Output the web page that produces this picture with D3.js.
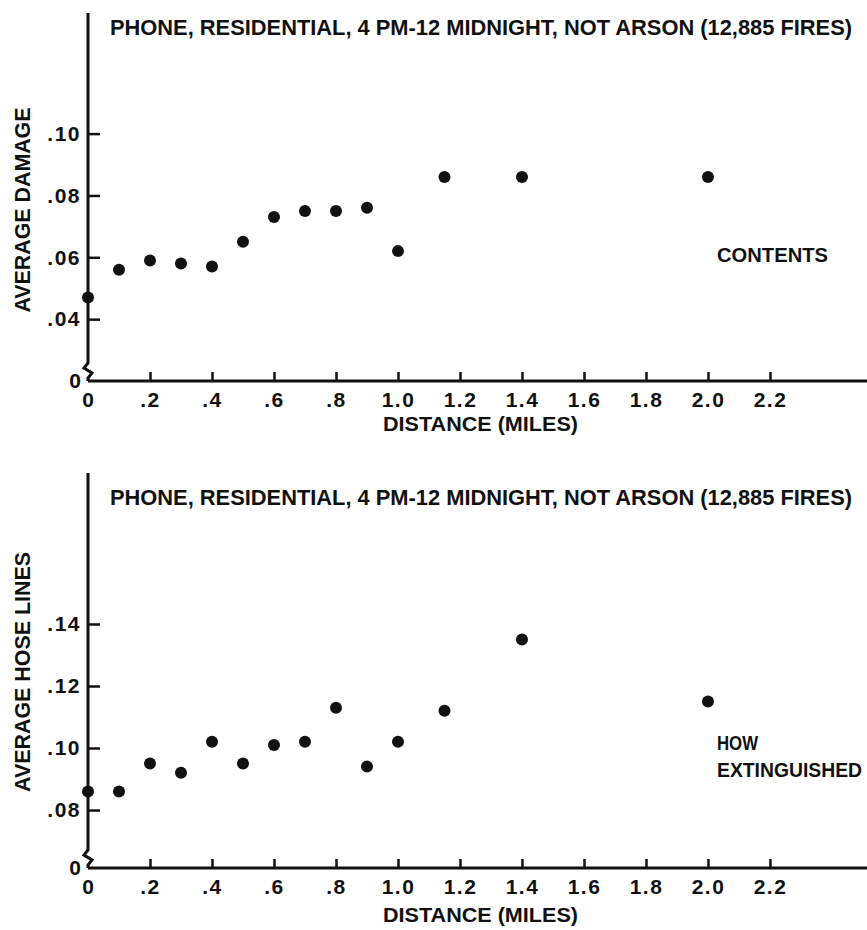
<!DOCTYPE html>
<html>
<head>
<meta charset="utf-8">
<script src="https://cdn.jsdelivr.net/npm/d3@7"></script>
<style>
  body { margin: 0; background: #fff; }
  text { font-family: 'Liberation Sans', Arial, sans-serif; font-weight: bold; fill: #111; }
</style>
</head>
<body>
<div id="chart"></div>
<script>
const title = 'PHONE, RESIDENTIAL, 4 PM-12 MIDNIGHT, NOT ARSON (12,885 FIRES)';
const distances = [0, 0.1, 0.2, 0.3, 0.4, 0.5, 0.6, 0.7, 0.8, 0.9, 1.0, 1.15, 1.4, 2.0];
const damage = [0.047, 0.056, 0.059, 0.058, 0.057, 0.065, 0.073, 0.075, 0.075, 0.076, 0.062, 0.086, 0.086, 0.086];
const hoseLines = [0.086, 0.086, 0.095, 0.092, 0.102, 0.095, 0.101, 0.102, 0.113, 0.094, 0.102, 0.112, 0.135, 0.115];
const xTicks = [0, 0.2, 0.4, 0.6, 0.8, 1.0, 1.2, 1.4, 1.6, 1.8, 2.0, 2.2];
const xTickLabels = ['0', '.2', '.4', '.6', '.8', '1.0', '1.2', '1.4', '1.6', '1.8', '2.0', '2.2'];
const damageTicks = [0.04, 0.06, 0.08, 0.10];
const damageTickLabels = ['.04', '.06', '.08', '.10'];
const hoseTicks = [0.08, 0.10, 0.12, 0.14];
const hoseTickLabels = ['.08', '.10', '.12', '.14'];

const width = 867, height = 930;
const svg = d3.select('#chart').append('svg')
  .attr('width', width)
  .attr('height', height);

function drawPanel(cfg) {
  const g = svg.append('g');
  const x = d3.scaleLinear().domain([0, 2.513]).range([88, 867]);
  const y = d3.scaleLinear().domain(cfg.yDomain).range([cfg.base, cfg.top]);

  // x axis, ticks pointing inward
  const xa = g.append('g')
    .attr('transform', `translate(0, ${cfg.base})`)
    .call(d3.axisBottom(x).tickValues(xTicks.slice(1))
      .tickFormat((d, i) => xTickLabels[i + 1])
      .tickSize(-9).tickSizeOuter(0).tickPadding(11));
  xa.select('.domain').remove();
  xa.selectAll('line').attr('stroke', '#111').attr('stroke-width', 2.5);
  xa.selectAll('text').attr('font-size', 21).attr('font-family', null)
    .attr('letter-spacing', 1.5).attr('dy', '0.71em');
  g.append('text')
    .attr('x', x(0)).attr('y', cfg.base + 11).attr('dy', '0.71em')
    .attr('text-anchor', 'middle').attr('font-size', 21)
    .text(xTickLabels[0]);
  g.append('line')
    .attr('x1', x(0)).attr('x2', width)
    .attr('y1', cfg.base).attr('y2', cfg.base)
    .attr('stroke', '#111').attr('stroke-width', 3);

  // y axis
  const ya = g.append('g')
    .attr('transform', `translate(${x(0)}, 0)`)
    .call(d3.axisLeft(y).tickValues(cfg.ticks)
      .tickFormat((d, i) => cfg.tickLabels[i])
      .tickSize(-12).tickSizeOuter(0).tickPadding(7));
  ya.select('.domain').remove();
  ya.selectAll('line').attr('stroke', '#111').attr('stroke-width', 2.5);
  ya.selectAll('text').attr('font-size', 21).attr('font-family', null)
    .attr('letter-spacing', 1.5);
  g.append('text')
    .attr('x', x(0) - 7).attr('y', cfg.base).attr('dy', '0.35em')
    .attr('text-anchor', 'end').attr('font-size', 21)
    .text('0');

  // axis line with break
  const x0 = x(0), b = cfg.base;
  g.append('path')
    .attr('d', `M${x0},${cfg.top}V${b - 18}L${x0 - 4},${b - 13}L${x0 + 4},${b - 8}L${x0},${b - 3}V${b}`)
    .attr('fill', 'none').attr('stroke', '#111').attr('stroke-width', 3);

  // points
  g.selectAll('circle')
    .data(distances.map((d, i) => [d, cfg.values[i]]))
    .enter()
    .append('circle')
    .attr('cx', d => x(d[0]))
    .attr('cy', d => y(d[1]))
    .attr('r', 6)
    .attr('fill', '#111');

  // titles
  g.append('text')
    .attr('x', 110).attr('y', cfg.titleY)
    .attr('font-size', 22)
    .attr('textLength', 742).attr('lengthAdjust', 'spacingAndGlyphs')
    .text(title);
  g.append('text')
    .attr('x', 383).attr('y', cfg.xTitleY)
    .attr('font-size', 21)
    .attr('textLength', 195).attr('lengthAdjust', 'spacingAndGlyphs')
    .text('DISTANCE (MILES)');
  g.append('text')
    .attr('transform', `translate(30, ${cfg.yTitleMid}) rotate(-90)`)
    .attr('text-anchor', 'middle')
    .attr('font-size', 22)
    .attr('textLength', cfg.yTitleLen).attr('lengthAdjust', 'spacingAndGlyphs')
    .text(cfg.yTitle);

  cfg.note.forEach((t, i) => {
    g.append('text')
      .attr('x', 717).attr('y', cfg.noteY + i * 27)
      .attr('font-size', 20)
      .attr('textLength', cfg.noteLen[i]).attr('lengthAdjust', 'spacingAndGlyphs')
      .text(t);
  });
}

drawPanel({
  values: damage, ticks: damageTicks, tickLabels: damageTickLabels,
  yDomain: [0.02, 0.139], base: 381, top: 13,
  titleY: 35, xTitleY: 431, yTitle: 'AVERAGE DAMAGE', yTitleMid: 210, yTitleLen: 205,
  note: ['CONTENTS'], noteLen: [111], noteY: 262
});

drawPanel({
  values: hoseLines, ticks: hoseTicks, tickLabels: hoseTickLabels,
  yDomain: [0.0613, 0.1887], base: 868, top: 473,
  titleY: 505, xTitleY: 922, yTitle: 'AVERAGE HOSE LINES', yTitleMid: 672, yTitleLen: 240,
  note: ['HOW', 'EXTINGUISHED'], noteLen: [41, 145], noteY: 750
});
</script>
</body>
</html>
